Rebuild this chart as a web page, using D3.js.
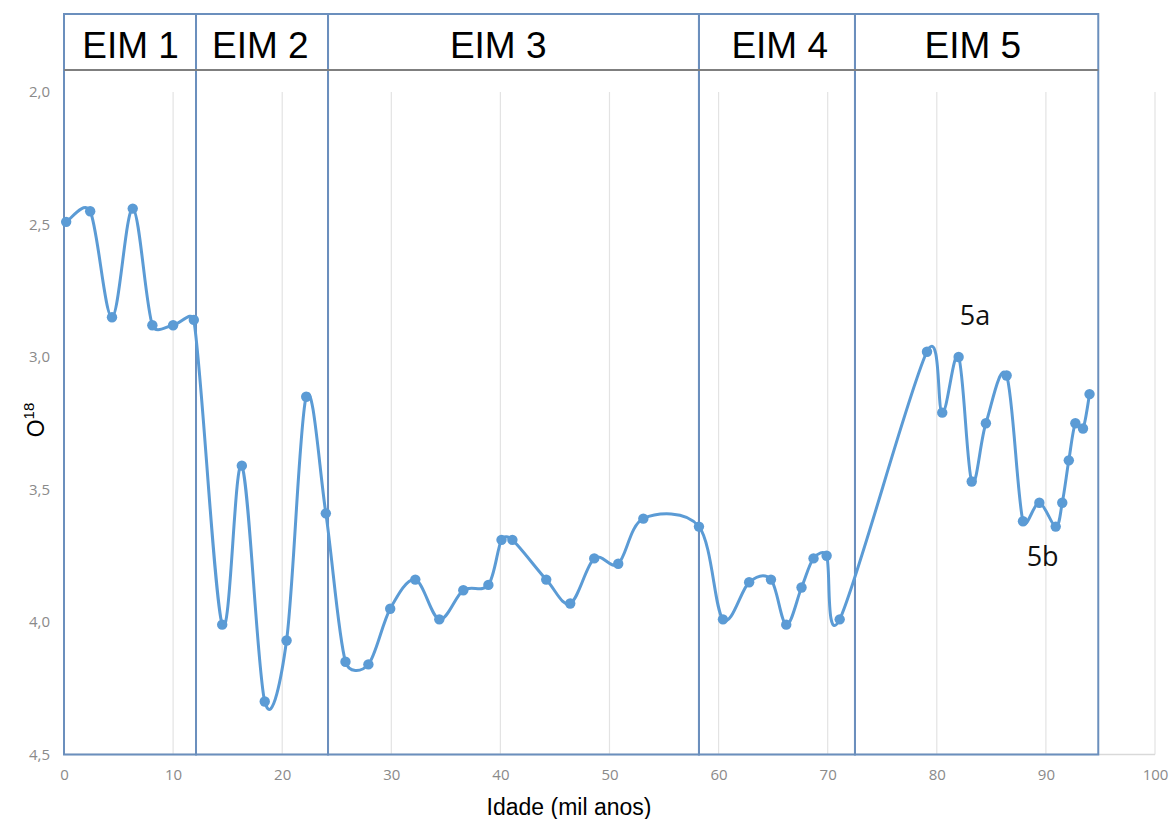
<!DOCTYPE html>
<html>
<head>
<meta charset="utf-8">
<script src="https://cdn.jsdelivr.net/npm/d3@7"></script>
<style>
  html, body { margin: 0; padding: 0; background: #ffffff; }
  svg { display: block; }
</style>
</head>
<body>
<svg id="chart" width="1169" height="819"></svg>
<script>
// ---- Data ----
const ages = [0.2, 2.4, 4.4, 6.3, 8.1, 10.0, 11.9, 14.5, 16.3, 18.4, 20.4, 22.2, 24.0, 25.8, 27.9,
  29.9, 32.2, 34.4, 36.6, 38.9, 40.1, 41.1, 44.2, 46.4, 48.6, 50.8, 53.1, 58.2,
  60.4, 62.8, 64.8, 66.2, 67.6, 68.7, 69.9, 71.1,
  79.1, 80.5, 82.0, 83.2, 84.5, 86.4, 87.9, 89.4, 90.9, 91.5, 92.1, 92.7, 93.4, 94.0];
const o18 = [2.49, 2.45, 2.85, 2.44, 2.88, 2.88, 2.86, 4.01, 3.41, 4.30, 4.07, 3.15, 3.59, 4.15, 4.16,
  3.95, 3.84, 3.99, 3.88, 3.86, 3.69, 3.69, 3.84, 3.93, 3.76, 3.78, 3.61, 3.64,
  3.99, 3.85, 3.84, 4.01, 3.87, 3.76, 3.75, 3.99,
  2.98, 3.21, 3.00, 3.47, 3.25, 3.07, 3.62, 3.55, 3.64, 3.55, 3.39, 3.25, 3.27, 3.14];

const stageNames = ["EIM 1", "EIM 2", "EIM 3", "EIM 4", "EIM 5"];
const stageStart = [0, 12.1, 24.2, 58.2, 72.5];
const stageEnd   = [12.1, 24.2, 58.2, 72.5, 94.8];
const stageLabelAt = [6.1, 18.0, 39.8, 65.6, 83.3];

const xTicks = [0, 10, 20, 30, 40, 50, 60, 70, 80, 90, 100];
const yTicks = [2.0, 2.5, 3.0, 3.5, 4.0, 4.5];

const annotations = [
  { text: "5a", age: 83.5, value: 2.88 },
  { text: "5b", age: 89.7, value: 3.79 }
];

// ---- Spreadsheet-style smoothing curve (custom d3 curve factory) ----
function SmoothCurve(context) { this._context = context; }
SmoothCurve.prototype = {
  areaStart() {}, areaEnd() {},
  lineStart() { this._pts = []; },
  point(px, py) { this._pts.push([+px, +py]); },
  lineEnd() {
    const p = this._pts, c = this._context, n = p.length;
    if (!n) return;
    c.moveTo(p[0][0], p[0][1]);
    const dist = (a, b) => Math.hypot(a[0] - b[0], a[1] - b[1]);
    for (let i = 0; i < n - 1; i++) {
      const P0 = p[Math.max(i - 1, 0)], P1 = p[i], P2 = p[i + 1], P3 = p[Math.min(i + 2, n - 1)];
      const d02 = dist(P0, P2), d12 = dist(P1, P2), d13 = dist(P1, P3);
      let f1 = 1 / 6, f2 = 1 / 6;
      if (d02 / 6 >= d12 / 2 && d02 > 0) f1 = d12 / d02 / 2;
      if (d13 / 6 >= d12 / 2 && d13 > 0) f2 = d12 / d13 / 2;
      const c1 = [P1[0] + (P2[0] - P0[0]) * f1, P1[1] + (P2[1] - P0[1]) * f1];
      const c2 = [P2[0] - (P3[0] - P1[0]) * f2, P2[1] - (P3[1] - P1[1]) * f2];
      c.bezierCurveTo(c1[0], c1[1], c2[0], c2[1], P2[0], P2[1]);
    }
  }
};
const smoothCurve = ctx => new SmoothCurve(ctx);

// ---- Layout ----
const svg = d3.select("#chart");
const x = d3.scaleLinear().domain([0, 100]).range([64, 1155]);
const y = d3.scaleLinear().domain([2.0, 4.5]).range([92, 754.5]);
const headerTop = 14, headerBottom = 70;

const fmt = d => d.toFixed(1).replace(".", ",");
const tickFont = "'Open Sans', 'Noto Sans', sans-serif";

// vertical gridlines
svg.append("g").selectAll("line").data(xTicks.filter(d => d > 0)).join("line")
  .attr("x1", d => x(d)).attr("x2", d => x(d))
  .attr("y1", y(2.0)).attr("y2", y(4.5))
  .attr("stroke", "#e3e3e3").attr("stroke-width", 1.2);

// x axis baseline (light gray)
svg.append("line")
  .attr("x1", x(0)).attr("x2", x(100)).attr("y1", y(4.5)).attr("y2", y(4.5))
  .attr("stroke", "#d9d9d9").attr("stroke-width", 1.5);

// x axis
const xAxis = svg.append("g")
  .attr("transform", `translate(0,${y(4.5)})`)
  .call(d3.axisBottom(x).tickValues(xTicks).tickSize(0).tickPadding(15).tickFormat(d3.format("d")));
xAxis.select(".domain").remove();
xAxis.selectAll("text").attr("fill", "#8a8a8a").style("font-family", tickFont).style("font-size", "15px");

// y axis
const yAxis = svg.append("g")
  .attr("transform", `translate(${x(0)},0)`)
  .call(d3.axisLeft(y).tickValues(yTicks).tickSize(0).tickPadding(14).tickFormat(fmt));
yAxis.select(".domain").remove();
yAxis.selectAll("text").attr("fill", "#8a8a8a").style("font-family", tickFont).style("font-size", "15px");

// stage boxes
const stages = stageNames.map((n, i) => ({ name: n, s: stageStart[i], e: stageEnd[i], lx: stageLabelAt[i] }));
svg.append("g").selectAll("rect").data(stages).join("rect")
  .attr("x", d => x(d.s)).attr("width", d => x(d.e) - x(d.s))
  .attr("y", headerTop).attr("height", y(4.5) - headerTop)
  .attr("fill", "none").attr("stroke", "#6b8fbd").attr("stroke-width", 2);

// header bottom line
svg.append("line")
  .attr("x1", x(stageStart[0])).attr("x2", x(stageEnd[stageEnd.length - 1]))
  .attr("y1", headerBottom).attr("y2", headerBottom)
  .attr("stroke", "#7f7f7f").attr("stroke-width", 2);

// stage labels
svg.append("g").selectAll("text").data(stages).join("text")
  .attr("x", d => x(d.lx)).attr("y", 58)
  .attr("text-anchor", "middle")
  .style("font-family", "'Liberation Sans', Arial, sans-serif")
  .style("font-size", "37px")
  .attr("fill", "#000")
  .text(d => d.name);

// data line
const pts = ages.map((a, i) => [a, o18[i]]);
const line = d3.line().x(d => x(d[0])).y(d => y(d[1])).curve(smoothCurve);
svg.append("path").datum(pts)
  .attr("d", line)
  .attr("fill", "none").attr("stroke", "#5b9bd5").attr("stroke-width", 3)
  .attr("stroke-linejoin", "round");

svg.append("g").selectAll("circle").data(pts).join("circle")
  .attr("cx", d => x(d[0])).attr("cy", d => y(d[1])).attr("r", 5.2)
  .attr("fill", "#5b9bd5");

// annotations
svg.append("g").selectAll("text").data(annotations).join("text")
  .attr("x", d => x(d.age)).attr("y", d => y(d.value))
  .attr("text-anchor", "middle")
  .style("font-family", "'Open Sans', 'Noto Sans', sans-serif")
  .style("font-size", "27px")
  .attr("fill", "#111")
  .text(d => d.text);

// axis titles
svg.append("text")
  .attr("x", 569).attr("y", 815)
  .attr("text-anchor", "middle")
  .style("font-family", "'Liberation Sans', Arial, sans-serif")
  .style("font-size", "23px")
  .attr("fill", "#000")
  .text("Idade (mil anos)");

const yt = svg.append("text")
  .attr("transform", "translate(44,420) rotate(-90)")
  .attr("text-anchor", "middle")
  .style("font-family", "'Liberation Sans', Arial, sans-serif")
  .style("font-size", "23px")
  .attr("fill", "#000");
yt.append("tspan").text("O");
yt.append("tspan").attr("dy", -10).style("font-size", "15px").text("18");
</script>
</body>
</html>
